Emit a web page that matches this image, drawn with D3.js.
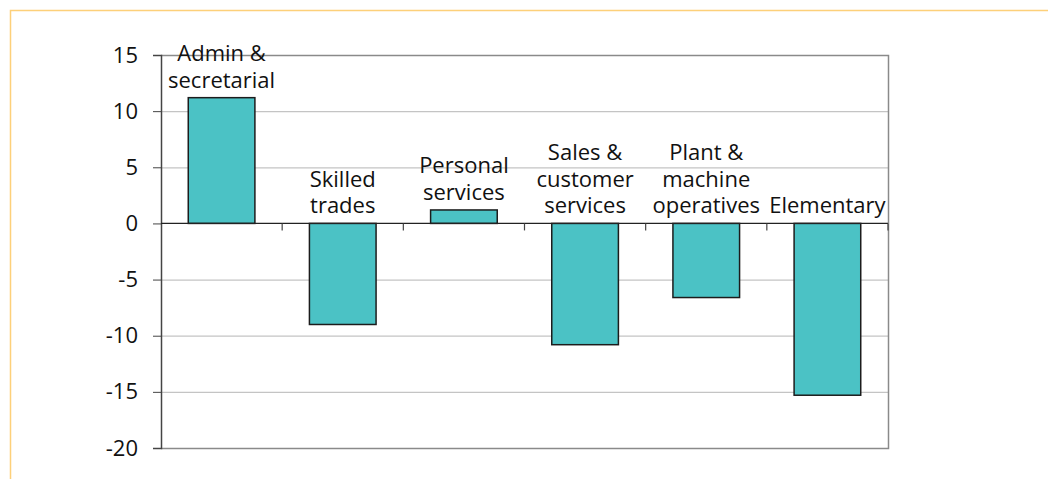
<!DOCTYPE html>
<html>
<head>
<meta charset="utf-8">
<script src="https://cdn.jsdelivr.net/npm/d3@7"></script>
<style>
  body { margin: 0; background: #fff; }
  text { font-family: "Open Sans", sans-serif; fill: #111; }
</style>
</head>
<body>
<svg id="chart" width="1048" height="479"></svg>
<script>
// data
const categories = ["Admin & secretarial", "Skilled trades", "Personal services",
  "Sales & customer services", "Plant & machine operatives", "Elementary"];
const labelLines = [["Admin &", "secretarial"], ["Skilled", "trades"], ["Personal", "services"],
  ["Sales &", "customer", "services"], ["Plant &", "machine", "operatives"], ["Elementary"]];
const values = [11.2, -9.0, 1.2, -10.8, -6.6, -15.3];
const yTicks = [15, 10, 5, 0, -5, -10, -15, -20];

const svg = d3.select("#chart");
const margin = { top: 55, left: 161, right: 160, bottom: 31 };
const width = 1048, height = 479;
const innerWidth = width - margin.left - margin.right;
const innerHeight = height - margin.top - margin.bottom;

// orange frame
svg.append("path")
  .attr("d", `M10.5,${height} V10.5 H${width}`)
  .attr("fill", "none")
  .attr("stroke", "#fdd07a")
  .attr("stroke-width", 1.5);

const g = svg.append("g").attr("transform", `translate(${margin.left},${margin.top})`);

const x = d3.scaleBand().domain(categories).range([0, innerWidth]).paddingInner(0.45).paddingOuter(0.225);
const y = d3.scaleLinear().domain([-20, 15]).range([innerHeight, 0]);

// gridlines
g.selectAll(".grid")
  .data(yTicks.filter((d) => d !== 0 && d !== -20 && d !== 15))
  .enter()
  .append("line")
  .attr("x1", 0)
  .attr("x2", innerWidth)
  .attr("y1", (d) => y(d) + 0.5)
  .attr("y2", (d) => y(d) + 0.5)
  .attr("stroke", "#c4c4c4")
  .attr("stroke-width", 1.2);

// frame: top, right, bottom
g.append("path")
  .attr("d", `M0,${y(15) + 0.5} H${innerWidth + 0.5} V${y(-20) + 0.5} H0`)
  .attr("fill", "none")
  .attr("stroke", "#8a8a8a")
  .attr("stroke-width", 1.5);

// bars
g.selectAll(".bar")
  .data(values)
  .enter()
  .append("rect")
  .attr("x", (d, i) => x(categories[i]))
  .attr("y", (d) => y(Math.max(0, d)))
  .attr("width", x.bandwidth())
  .attr("height", (d) => Math.abs(y(d) - y(0)))
  .attr("fill", "#4bc2c5")
  .attr("stroke", "#1c1c1c")
  .attr("stroke-width", 1.5);

// y axis (plain hyphen for negatives, like the original)
const yAxis = d3.axisLeft(y).tickValues(yTicks).tickFormat((d) => String(d)).tickSize(8).tickPadding(15);
const yAxisG = g.append("g").call(yAxis);
yAxisG.select(".domain").attr("stroke", "#444").attr("stroke-width", 1.5);
yAxisG.selectAll(".tick line").attr("stroke", "#444");
yAxisG.selectAll(".tick text")
  .style("font-size", "22px")
  .attr("fill", "#111")
  .style("font-family", "'Open Sans', sans-serif");

// zero line with category ticks
const step = x.step();
const boundaries = d3.range(1, categories.length + 1).map((i) => x(categories[0]) - x.paddingOuter() * step + i * step);
g.append("line")
  .attr("x1", 0)
  .attr("x2", innerWidth)
  .attr("y1", y(0))
  .attr("y2", y(0))
  .attr("stroke", "#222")
  .attr("stroke-width", 1.3);
g.selectAll(".xtick")
  .data(boundaries)
  .enter()
  .append("line")
  .attr("x1", (d) => d)
  .attr("x2", (d) => d)
  .attr("y1", y(0))
  .attr("y2", y(0) + 7)
  .attr("stroke", "#444")
  .attr("stroke-width", 1.2);

// category labels above bars / zero line
const lineH = 26.5;
g.selectAll(".label")
  .data(values)
  .enter()
  .append("text")
  .attr("text-anchor", "middle")
  .style("font-size", "22px")
  .each(function (d, i) {
    const lines = labelLines[i];
    const cx = x(categories[i]) + x.bandwidth() / 2;
    const base = y(Math.max(0, d)) - 10;
    d3.select(this)
      .selectAll("tspan")
      .data(lines)
      .enter()
      .append("tspan")
      .attr("x", cx)
      .attr("y", (t, j) => base - (lines.length - 1 - j) * lineH)
      .text((t) => t);
  });
</script>
</body>
</html>
